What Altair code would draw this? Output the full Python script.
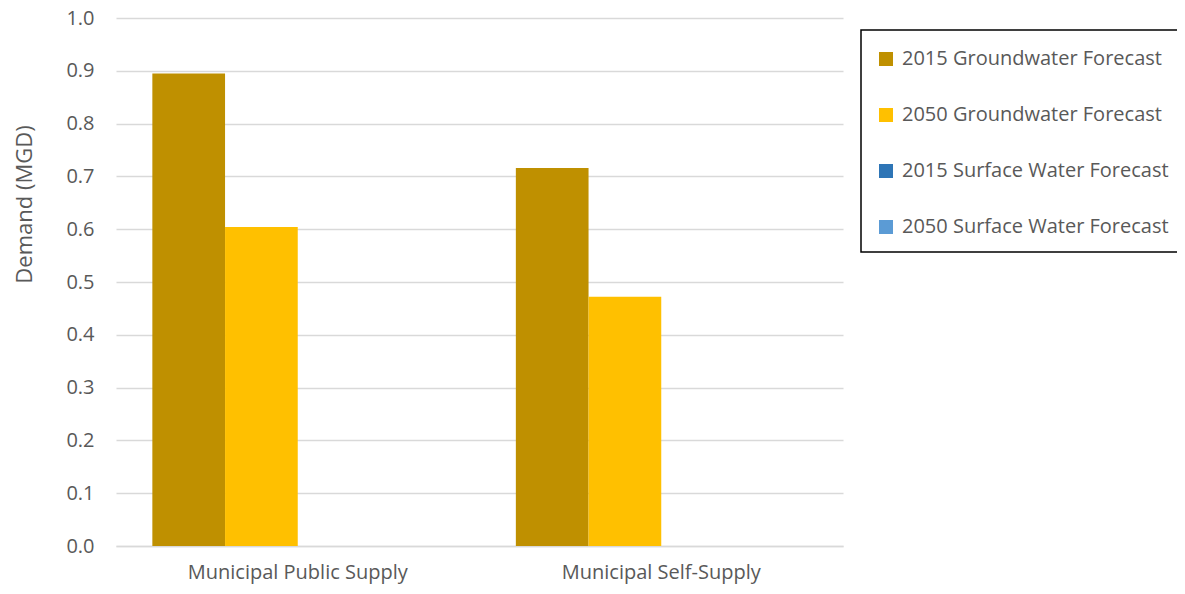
import altair as alt
import pandas as pd

categories = ["Municipal Public Supply", "Municipal Self-Supply"]
series = [
    "2015 Groundwater Forecast",
    "2050 Groundwater Forecast",
    "2015 Surface Water Forecast",
    "2050 Surface Water Forecast",
]
gw_2015 = [0.895, 0.716]
gw_2050 = [0.604, 0.472]
sw_2015 = [0.0, 0.0]
sw_2050 = [0.0, 0.0]
colors = ["#BF9000", "#FFC000", "#2E75B6", "#5B9BD5"]

rows = []
for i, c in enumerate(categories):
    for s, vals in zip(series, [gw_2015, gw_2050, sw_2015, sw_2050]):
        rows.append({"category": c, "series": s, "value": vals[i]})
df = pd.DataFrame(rows)

FONT = "Open Sans"
GRAY = "#595959"

chart = alt.Chart(df).mark_bar().encode(
    x=alt.X(
        "category:N",
        sort=categories,
        title=None,
        scale=alt.Scale(paddingInner=0.2, paddingOuter=0.1),
        axis=alt.Axis(
            labelAngle=0,
            labelFontSize=20,
            labelColor=GRAY,
            labelFont=FONT,
            labelPadding=16,
            labelLimit=500,
            ticks=False,
            domain=True,
            domainColor="#D9D9D9",
            domainWidth=1.5,
        ),
    ),
    xOffset=alt.XOffset(
        "series:N",
        sort=series,
        scale=alt.Scale(domain=series, paddingInner=0, paddingOuter=0),
    ),
    y=alt.Y(
        "value:Q",
        title="Demand (MGD)",
        scale=alt.Scale(domain=[0, 1.0], nice=False),
        axis=alt.Axis(
            values=[i / 10 for i in range(11)],
            format=".1f",
            labelFontSize=20,
            labelColor=GRAY,
            labelFont=FONT,
            labelPadding=22,
            ticks=False,
            domain=False,
            grid=True,
            gridColor="#D9D9D9",
            gridWidth=1.5,
            titleFontSize=22,
            titleFont=FONT,
            titleColor=GRAY,
            titleFontWeight="normal",
            titlePadding=29,
            titleY=186,
        ),
    ),
    color=alt.Color(
        "series:N",
        sort=series,
        scale=alt.Scale(domain=series, range=colors),
        legend=alt.Legend(
            title=" ",
            titleFontSize=2,
            titlePadding=2,
            orient="none",
            legendX=745,
            legendY=12,
            symbolType="square",
            symbolSize=196,
            symbolStrokeWidth=0,
            labelFontSize=20,
            labelFont=FONT,
            labelColor=GRAY,
            labelOffset=6,
            rowPadding=36,
            padding=15,
            strokeColor="black",
            fillColor="white",
            labelLimit=400,
        ),
    ),
).properties(
    width=727,
    height=528,
    padding={"left": 108, "top": 10, "right": 334, "bottom": 40},
    autosize=alt.AutoSizeParams(type="none"),
).configure_view(stroke=None).configure_legend(strokeWidth=1.5)

chart.save("out.html", embed_options={"renderer": "svg", "actions": False})
